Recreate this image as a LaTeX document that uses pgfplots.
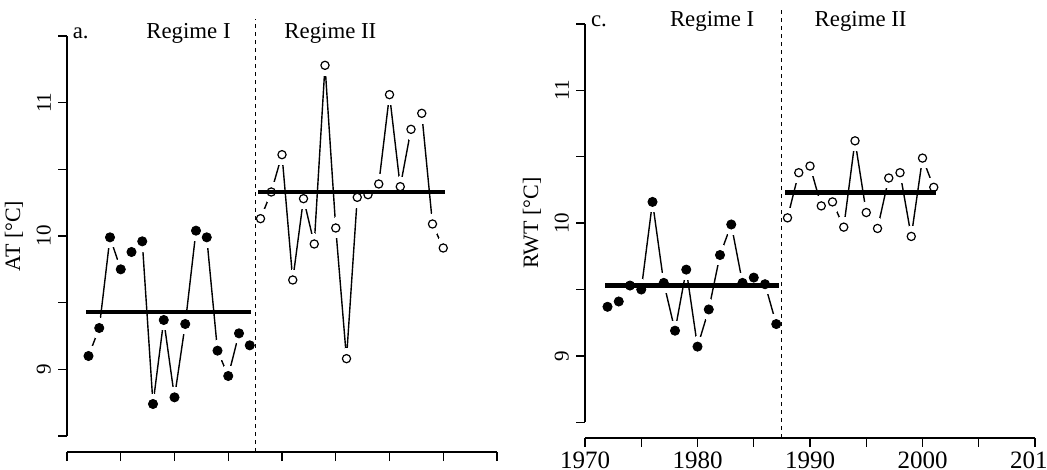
\documentclass[border=0pt]{standalone}
\usepackage{fontspec}
\setmainfont{Liberation Serif}
\usepackage{pgfplots}
\usepackage{pgfplotstable}
\pgfplotsset{compat=1.18}

% AT, regime I and II
\pgfplotstableread{
year at
1972 9.10
1973 9.31
1974 9.99
1975 9.75
1976 9.88
1977 9.96
1978 8.74
1979 9.37
1980 8.79
1981 9.34
1982 10.04
1983 9.99
1984 9.14
1985 8.95
1986 9.27
1987 9.18
}\atI
\pgfplotstableread{
year at
1988 10.13
1989 10.33
1990 10.61
1991 9.67
1992 10.28
1993 9.94
1994 11.28
1995 10.06
1996 9.08
1997 10.29
1998 10.31
1999 10.39
2000 11.06
2001 10.37
2002 10.80
2003 10.92
2004 10.09
2005 9.91
}\atII
% RWT, regime I and II
\pgfplotstableread{
year rwt
1972 9.37
1973 9.41
1974 9.53
1975 9.50
1976 10.16
1977 9.55
1978 9.19
1979 9.65
1980 9.07
1981 9.35
1982 9.76
1983 9.99
1984 9.55
1985 9.59
1986 9.54
1987 9.24
}\rwtI
\pgfplotstableread{
year rwt
1988 10.04
1989 10.38
1990 10.43
1991 10.13
1992 10.16
1993 9.97
1994 10.62
1995 10.08
1996 9.96
1997 10.34
1998 10.38
1999 9.90
2000 10.49
2001 10.27
}\rwtII

\tikzset{lab/.style={font=\fontsize{11.4}{13}\selectfont, inner sep=0pt}}
\pgfplotsset{
  rplot/.style={
    set layers,
    scale only axis, clip=false,
    xmin=1970, xmax=2010, ymin=8.5, ymax=11.5,
    enlargelimits=false,
    axis x line=bottom, axis y line=left,
    axis line style={-, line width=0.7pt},
    xtick={1970,1975,...,2010},
    ytick={8.5,9,9.5,10,10.5,11,11.5},
    yticklabels={,9,,10,,11,},
    tick align=outside, major tick length=4.5pt,
    every tick/.style={line width=0.7pt, black},
    yticklabel style={rotate=90, anchor=south, font=\fontsize{10.5}{12}\selectfont},
    xticklabel style={font=\fontsize{12.5}{14}\selectfont, yshift=1pt},
    ylabel style={font=\fontsize{11}{13}\selectfont},
    /pgf/number format/assume math mode=true,
  },
  sline/.style={black, line width=0.7pt, mark=none},
  halo/.style={white, only marks, mark=*, mark size=5pt, mark options={white, fill=white, line width=0pt}},
  dots/.style={black, only marks, mark=*, mark size=2.3pt, mark options={black, fill=black, line width=0.4pt}},
  rings/.style={black, only marks, mark=o, mark size=2.05pt, mark options={black, line width=0.6pt}},
  meanline/.style={on layer=axis foreground, black, line width=2.2pt, mark=none},
  regline/.style={on layer=axis foreground, black, line width=0.6pt, dash pattern=on 2pt off 2pt, mark=none},
}

\begin{document}
\begin{tikzpicture}
% panel a
\begin{axis}[rplot,
  at={(33.5pt,17pt)}, anchor=south west,
  width=215pt, height=200pt,
  axis x line shift=8pt,
  xticklabels={},
  ylabel={AT [°C]},
]
\addplot[sline] table[x=year, y=at] {\atI};
\addplot[sline] table[x=year, y=at] {\atII};
\addplot[halo] table[x=year, y=at] {\atI};
\addplot[halo] table[x=year, y=at] {\atII};
\addplot[dots] table[x=year, y=at] {\atI};
\addplot[rings] table[x=year, y=at] {\atII};
\addplot[meanline] coordinates {(1971.8,9.43) (1987.1,9.43)};
\addplot[meanline] coordinates {(1987.8,10.33) (2005.2,10.33)};
\addplot[regline] coordinates {(1987.5,8.38) (1987.5,11.63)};
\node[lab, anchor=base west] at (axis cs:1970.5,11.48) {a.};
\node[lab, anchor=base] at (axis cs:1981.3,11.48) {Regime I};
\node[lab, anchor=base] at (axis cs:1994.5,11.48) {Regime II};
\end{axis}
% panel c
\begin{axis}[rplot,
  at={(292.5pt,23.85pt)}, anchor=south west,
  width=225pt, height=199.15pt,
  axis x line shift=7.85pt,
  xticklabels={1970,,1980,,1990,,2000,,2010},
  ylabel={RWT [°C]},
]
\addplot[sline] table[x=year, y=rwt] {\rwtI};
\addplot[sline] table[x=year, y=rwt] {\rwtII};
\addplot[halo] table[x=year, y=rwt] {\rwtI};
\addplot[halo] table[x=year, y=rwt] {\rwtII};
\addplot[dots] table[x=year, y=rwt] {\rwtI};
\addplot[rings] table[x=year, y=rwt] {\rwtII};
\addplot[meanline] coordinates {(1971.8,9.53) (1987.2,9.53)};
\addplot[meanline] coordinates {(1987.8,10.23) (2001.2,10.23)};
\addplot[regline] coordinates {(1987.5,8.38) (1987.5,11.62)};
\node[lab, anchor=base west] at (axis cs:1970.5,11.48) {c.};
\node[lab, anchor=base] at (axis cs:1981.3,11.48) {Regime I};
\node[lab, anchor=base] at (axis cs:1994.5,11.48) {Regime II};
\end{axis}
\pgfresetboundingbox
\useasboundingbox (0,0) rectangle (523.5pt,235pt);
\end{tikzpicture}
\end{document}
